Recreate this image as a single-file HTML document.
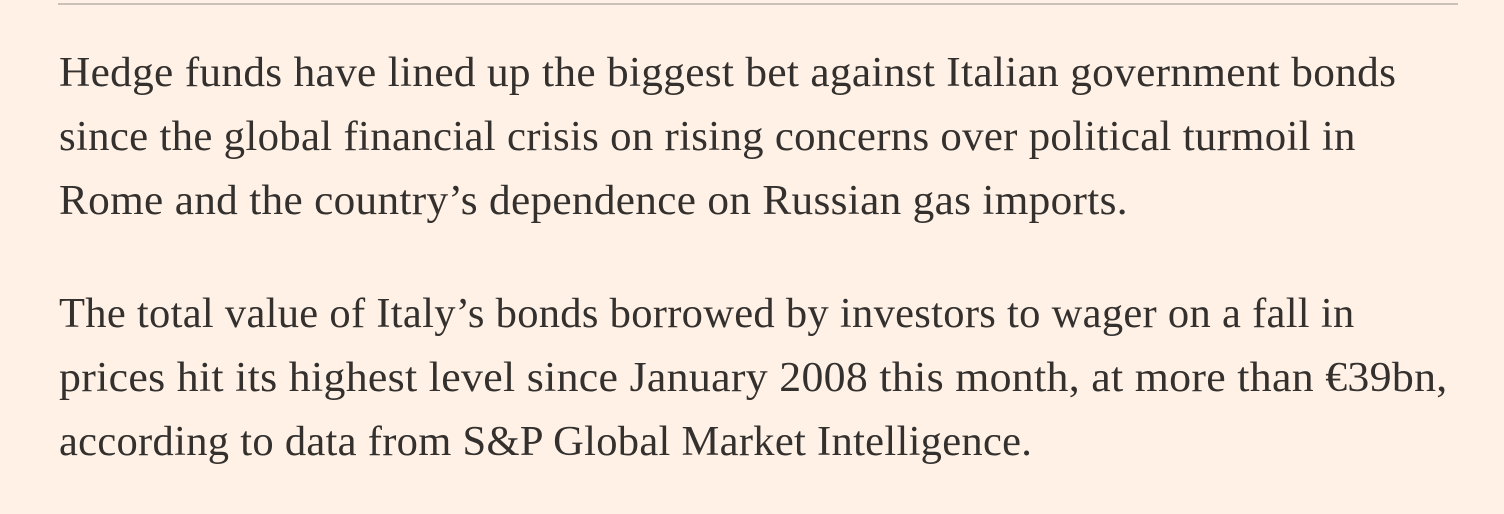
<!DOCTYPE html>
<html><head><meta charset="utf-8"><style>
html,body{margin:0;padding:0;}
body{width:1504px;height:514px;background:#fff1e5;position:relative;overflow:hidden;font-family:"Liberation Serif",Georgia,serif;color:#33302e;}
.rule{position:absolute;left:58px;top:3px;width:1400px;height:2px;background:#ccc1b7;}
.p{position:absolute;left:59px;font-size:42px;line-height:64px;white-space:nowrap;}
.p div{height:64px;}
.p span{display:inline-block;transform-origin:0 50%;letter-spacing:0.3px;}
</style></head><body>
<div class="rule"></div>
<div class="p" style="top:41px">
<div><span style="transform:scaleX(1.031)">Hedge funds have lined up the biggest bet against Italian government bonds</span></div>
<div><span style="transform:scaleX(1.019)">since the global financial crisis on rising concerns over political turmoil in</span></div>
<div><span style="transform:scaleX(1.030)">Rome and the country’s dependence on Russian gas imports.</span></div>
</div>
<div class="p" style="top:282px">
<div><span style="transform:scaleX(1.012)">The total value of Italy’s bonds borrowed by investors to wager on a fall in</span></div>
<div><span style="transform:scaleX(1.043)">prices hit its highest level since January 2008 this month, at more than €39bn,</span></div>
<div><span style="transform:scaleX(1.012)">according to data from S&amp;P Global Market Intelligence.</span></div>
</div>
</body></html>
